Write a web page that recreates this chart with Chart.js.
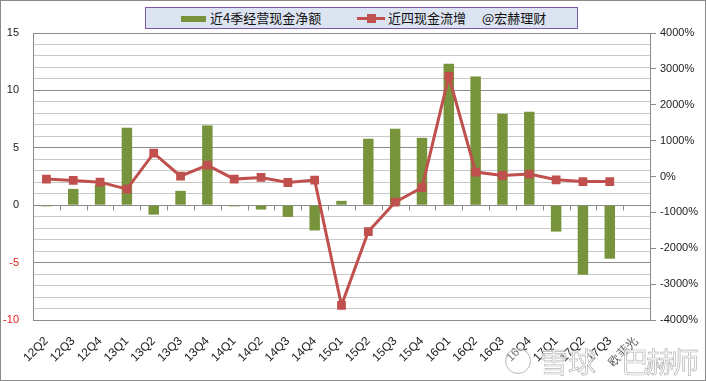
<!DOCTYPE html>
<html>
<head>
<meta charset="utf-8">
<script src="https://cdn.jsdelivr.net/npm/chart.js@4/dist/chart.umd.min.js"></script>
<style>
  html, body { margin: 0; padding: 0; background: #fff; }
  #wrap { position: relative; width: 706px; height: 381px; overflow: hidden; }
  #frame { position: absolute; left: 0; top: 0; width: 706px; height: 381px; box-sizing: border-box; border: 1px solid #8a8a8a; pointer-events: none; }
  #legend { position: absolute; left: 145px; top: 7px; width: 433px; height: 22px; box-sizing: border-box;
            background: #dde4f1; border: 1px solid #7a5aa6; font-family: "Noto Sans CJK SC", sans-serif; font-size: 13px; color: #111; }
  #legend .t { position: absolute; top: 1px; line-height: 18px; white-space: nowrap; }
  .wm { position: absolute; font-family: "Noto Sans CJK SC", sans-serif; font-size: 28px; line-height: 30px;
        color: rgba(255,255,255,0.7); -webkit-text-stroke: 0.7px #b4b4b4; white-space: nowrap; pointer-events: none; }
</style>
</head>
<body>
<div id="wrap">
  <canvas id="c" width="706" height="381"></canvas>
  <div id="legend">
    <div style="position:absolute;left:35px;top:8px;width:25px;height:6px;background:#77933c;"></div>
    <div class="t" style="left:64px;">近4季经营现金净额</div>
    <div style="position:absolute;left:211px;top:9px;width:28px;height:3px;background:#c0504d;"></div>
    <div style="position:absolute;left:221px;top:6px;width:9px;height:9px;background:#c0504d;"></div>
    <div class="t" style="left:242px;">近四现金流增</div>
    <div class="t" style="left:336px;">@宏赫理财</div>
  </div>
  <div style="position:absolute;left:505px;top:348px;width:24px;height:24px;border-radius:50%;border:1px solid #b8b8b8;background:rgba(255,255,255,0.4);"></div>
  <div class="wm" style="left:540px;top:346px;">雪球</div>
  <div class="wm" style="left:621px;top:346px;letter-spacing:-3px;">巴赫师</div>
  <div id="frame"></div>
</div>
<script>
const categories = ['12Q2','12Q3','12Q4','13Q1','13Q2','13Q3','13Q4','14Q1','14Q2','14Q3','14Q4',
                    '15Q1','15Q2','15Q3','15Q4','16Q1','16Q2','16Q3','16Q4','17Q1','17Q2','17Q3','欧菲光'];
const cashNet4Q = [-0.1, 1.42, 1.8, 6.75, -0.82, 1.25, 6.95, -0.1, -0.38, -1.02, -2.2,
                   0.38, 5.79, 6.66, 5.87, 12.33, 11.2, 7.97, 8.14, -2.3, -6.05, -4.66, null];
const cashGrowthPct = [-73, -110, -157, -353, 653, 10, 318, -73, -27, -167, -101,
                       -3592, -1536, -716, -307, 2793, 123, 28, 67, -92, -140, -140, null];
const leftTicks = { min: -10, max: 15, step: 1, labelEvery: 5 };
const rightTicks = { min: -4000, max: 4000, step: 1000 };

const axisFont = { family: 'Liberation Sans', size: 11 };
const catFont = { family: 'Liberation Sans', size: 12 };

const zeroTicks = {
  id: 'zeroTicks',
  beforeDatasetsDraw(chart) {
    const x = chart.scales.x, y = chart.scales.y, ctx = chart.ctx;
    const y0 = Math.round(y.getPixelForValue(0)) + 0.5;
    const w = (x.right - x.left) / categories.length;
    ctx.save();
    ctx.strokeStyle = '#8c8c8c';
    ctx.lineWidth = 1;
    ctx.beginPath();
    for (let k = 1; k < categories.length; k++) {
      const px = Math.round(x.left + k * w) + 0.5;
      ctx.moveTo(px, y0);
      ctx.lineTo(px, y0 + 5);
    }
    ctx.stroke();
    ctx.restore();
  }
};

new Chart(document.getElementById('c'), {
  data: {
    labels: categories,
    datasets: [
      {
        type: 'line',
        label: '近四现金流增',
        data: cashGrowthPct,
        yAxisID: 'y1',
        borderColor: '#c0504d',
        backgroundColor: '#c0504d',
        borderWidth: 3,
        pointStyle: 'rect',
        pointRadius: 6.2,
        pointBorderWidth: 0,
        tension: 0,
        order: 0
      },
      {
        type: 'bar',
        label: '近4季经营现金净额',
        data: cashNet4Q,
        yAxisID: 'y',
        backgroundColor: '#77933c',
        borderWidth: 0,
        barPercentage: 0.39,
        categoryPercentage: 1,
        order: 1
      }
    ]
  },
  options: {
    responsive: false,
    animation: false,
    layout: { padding: { top: 33, left: 0, right: 0, bottom: 0 } },
    plugins: { legend: { display: false }, tooltip: { enabled: false } },
    scales: {
      x: {
        type: 'category',
        offset: true,
        grid: { display: true, drawOnChartArea: false, drawTicks: true, tickLength: 12, color: 'rgba(0,0,0,0)' },
        border: { display: false },
        ticks: {
          autoSkip: false, maxRotation: 45, minRotation: 45, padding: 2,
          font: catFont,
          color: (c) => c.index === categories.length - 1 ? '#555' : '#222'
        },
        afterFit(s) { s.height = 61; }
      },
      y: {
        position: 'left',
        min: leftTicks.min, max: leftTicks.max,
        grid: {
          drawTicks: false,
          color: (c) => (c.tick && c.tick.value % leftTicks.labelEvery === 0) ? '#8c8c8c' : '#c8c8c8'
        },
        border: { display: true, color: '#8c8c8c' },
        ticks: {
          stepSize: leftTicks.step, autoSkip: false, padding: 14,
          font: axisFont,
          callback: (v) => (v % leftTicks.labelEvery === 0 ? String(v) : ''),
          color: (c) => (c.tick && c.tick.value < 0) ? '#e02020' : '#222'
        },
        afterFit(s) { s.width = 33; }
      },
      y1: {
        position: 'right',
        min: rightTicks.min, max: rightTicks.max,
        grid: { drawOnChartArea: false, drawTicks: true, tickLength: 6, color: '#8c8c8c' },
        border: { display: true, color: '#8c8c8c' },
        ticks: {
          stepSize: rightTicks.step, padding: 4,
          font: axisFont, color: '#222',
          callback: (v) => v + '%'
        },
        afterFit(s) { s.width = 56; }
      }
    }
  },
  plugins: [zeroTicks]
});
</script>
</body>
</html>
